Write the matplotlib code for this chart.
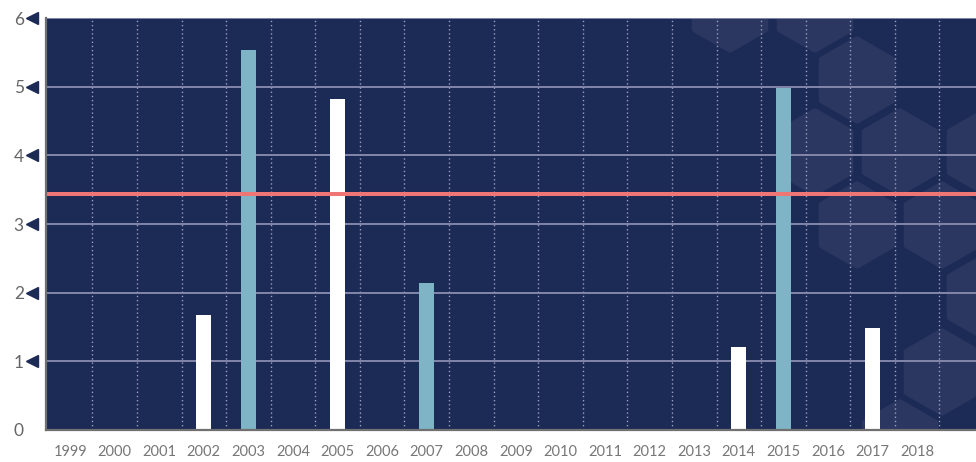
import matplotlib.pyplot as plt
import matplotlib.transforms as mtransforms
from matplotlib.patches import RegularPolygon
import numpy as np

# data
years = [str(y) for y in range(1999, 2019)]
white_years = ["2002", "2005", "2014", "2017"]
white_vals = [1.67, 4.82, 1.21, 1.49]
blue_years = ["2003", "2007", "2015"]
blue_vals = [5.53, 2.14, 4.98]
ref_level = 3.44
yticks = [0, 1, 2, 3, 4, 5, 6]

navy = "#1c2a56"
hex_col = "#2b3661"
blue = "#7fb4c6"
grid_col = "#8a8db0"

plt.rcParams["font.family"] = ["Lato", "DejaVu Sans"]

fig = plt.figure(figsize=(9.76, 4.62), dpi=100)
ax = fig.add_axes([46 / 976, 32 / 462, 930 / 976, 412 / 462])
ax.set_facecolor(navy)

# background honeycomb decoration (pixel centres, measured from top)
hexes = [(730, 9), (815, 9), (857, 80), (815, 152), (900, 152), (985, 152),
         (857, 225), (942, 225), (985, 297), (942, 372), (900, 443)]
for cx, cy in hexes:
  h = RegularPolygon((cx, 462 - cy), 6, radius=41, facecolor=hex_col,
                     edgecolor=hex_col, linewidth=4, joinstyle="round",
                     transform=mtransforms.IdentityTransform(), zorder=0.5)
  h.set_clip_path(ax.patch)
  ax.add_patch(h)

pos = {y: i for i, y in enumerate(years)}
ax.bar([pos[y] for y in white_years], white_vals, width=0.34, color="white", zorder=3)
ax.bar([pos[y] for y in blue_years], blue_vals, width=0.34, color=blue, zorder=3)
ax.axhline(ref_level, color="#f07676", linewidth=2.9, zorder=4)

ax.set_xlim(-0.54, 20.32)
ax.set_ylim(0, 6)
ax.set_xticks(range(len(years)))
ax.set_xticklabels(years)
ax.set_xticks(np.arange(0.5, len(years), 1), minor=True)
ax.set_yticks(yticks)
ax.set_yticklabels([str(t) for t in yticks])

ax.grid(axis="y", which="major", color=grid_col, linewidth=1.3, zorder=1)
ax.grid(axis="x", which="minor", color="#9aa0c0", linewidth=1.0,
        linestyle=(0, (1, 2)), zorder=1)
ax.set_axisbelow(True)

ax.tick_params(axis="x", which="both", length=0, labelsize=10.5, colors="#777777", pad=11)
ax.tick_params(axis="y", which="both", length=0, labelsize=12.5, colors="#666666", pad=16)

# little triangles next to the y labels
tr = mtransforms.blended_transform_factory(ax.transAxes, ax.transData)
ax.plot([-0.015] * (len(yticks) - 1), yticks[1:], linestyle="none", marker="<",
        markersize=8.5, color=navy, transform=tr, clip_on=False)

for s in ["top", "right"]:
  ax.spines[s].set_visible(False)
for s in ["left", "bottom"]:
  ax.spines[s].set_color("#707070")
  ax.spines[s].set_linewidth(1.6)
  ax.spines[s].set_zorder(5)

fig.savefig("out.png", dpi=100)
